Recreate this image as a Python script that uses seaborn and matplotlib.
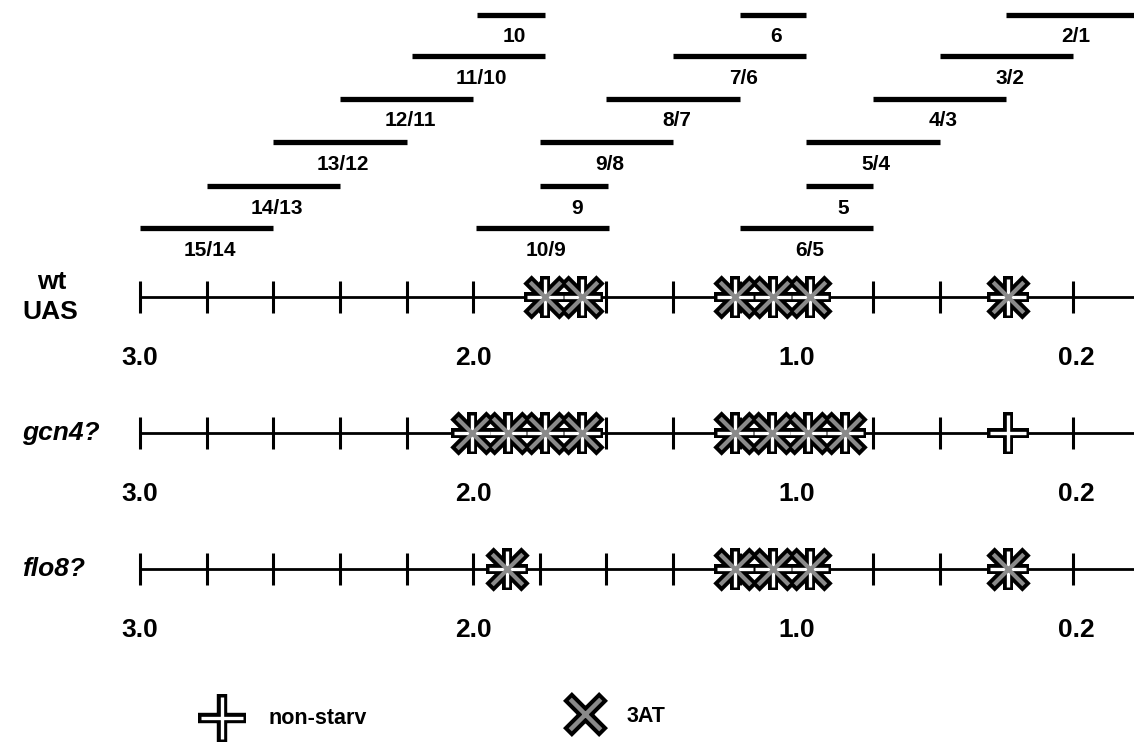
import numpy as np
import pandas as pd
import matplotlib
matplotlib.use('Agg')
import matplotlib.pyplot as plt
import seaborn as sns

sns.set_theme(style='white')
plt.rcParams['font.family'] = ['Liberation Sans', 'DejaVu Sans']
plt.rcParams['font.weight'] = 'bold'

# restriction fragments: label, start, end (map units, one unit per tick), stacking row
frag_names = ['15/14', '14/13', '13/12', '12/11', '11/10', '10',
              '10/9', '9', '9/8', '8/7', '7/6', '6',
              '6/5', '5', '5/4', '4/3', '3/2', '2/1']
frag_start = [0.0, 1.0, 2.0, 3.0, 4.08, 5.05,
              5.04, 6.0, 6.0, 7.0, 8.0, 9.0,
              9.0, 10.0, 10.0, 11.0, 12.0, 13.0]
frag_end = [2.0, 3.0, 4.0, 5.0, 6.08, 6.08,
            7.04, 7.02, 8.0, 9.0, 10.0, 10.0,
            11.0, 11.0, 12.0, 13.0, 14.0, 15.0]
frag_row = [0, 1, 2, 3, 4, 5] * 3

tick_pos = np.arange(15)
scale_labels = ['3.0', '2.0', '1.0', '0.2']
scale_pos = [0.0, 5.0, 9.85, 14.05]

strains = ['wt', 'gcn4?', 'flo8?']
nonstarv = {
    'wt': [6.08, 6.63, 8.93, 9.5, 10.05, 13.03],
    'gcn4?': [4.98, 5.52, 6.08, 6.63, 8.93, 9.48, 10.03, 10.58, 13.03],
    'flo8?': [5.5, 8.93, 9.5, 10.05, 13.03],
}
at3 = {
    'wt': [6.08, 6.63, 8.93, 9.5, 10.05, 13.03],
    'gcn4?': [4.98, 5.52, 6.08, 6.63, 8.93, 9.48, 10.03, 10.58],
    'flo8?': [5.5, 8.93, 9.5, 10.05, 13.03],
}

# layout (pixel rows, axes is set up in pixels vertically)
U = 66.64
X0 = 140
row_y = [228, 186, 142, 99, 56, 15]
strain_y = {'wt': 297, 'gcn4?': 433, 'flo8?': 569}


def mx(px):
    return (px - X0) / U


rows = []
for s in strains:
    for p in nonstarv[s]:
        rows.append({'strain': s, 'pos': p, 'y': strain_y[s], 'cond': 'non-starv'})
    for p in at3[s]:
        rows.append({'strain': s, 'pos': p, 'y': strain_y[s], 'cond': '3AT'})
marks = pd.DataFrame(rows)

fig = plt.figure(figsize=(11.34, 7.45), dpi=100)
ax = fig.add_axes([0, 0, 1, 1])
ax.set_xlim(mx(0), mx(1134))
ax.set_ylim(745, 0)
ax.axis('off')

# fragments
fy = [row_y[r] for r in frag_row]
ax.hlines(fy, frag_start, frag_end, color='black', lw=3.8, zorder=2)
for name, a, b, y in zip(frag_names, frag_start, frag_end, fy):
    ax.text((a + b) / 2 + 0.05, y + 22, name, ha='center', va='center',
            fontsize=15, fontweight='bold', color='black')

# map lines
for s in strains:
    y = strain_y[s]
    ax.hlines(y, 0, mx(1134), color='black', lw=2.0, zorder=1)
    ax.vlines(tick_pos, y - 16, y + 16, color='black', lw=2.2, zorder=1)
    for lab, p in zip(scale_labels, scale_pos):
        ax.text(p, y + 61, lab, ha='center', va='center', fontsize=19,
                fontweight='bold', color='black')

ax.text(mx(52), 282, 'wt', ha='center', va='center', fontsize=19, fontweight='bold', color='black')
ax.text(mx(50), 312, 'UAS', ha='center', va='center', fontsize=19, fontweight='bold', color='black')
ax.text(mx(22), strain_y['gcn4?'], 'gcn4?', ha='left', va='center', fontsize=19,
        fontweight='bold', style='italic', color='black')
ax.text(mx(22), strain_y['flo8?'], 'flo8?', ha='left', va='center', fontsize=19,
        fontweight='bold', style='italic', color='black')

# markers: black outlines first, then the light interiors
ns = marks[marks['cond'] == 'non-starv']
xx = marks[marks['cond'] == '3AT']
sns.scatterplot(data=ns, x='pos', y='y', marker='+', s=30 ** 2, color='black',
                linewidth=7.2, ax=ax, legend=False, zorder=3)
sns.scatterplot(data=xx, x='pos', y='y', marker='x', s=26 ** 2, color='black',
                linewidth=8.5, ax=ax, legend=False, zorder=3)
sns.scatterplot(data=ns, x='pos', y='y', marker='+', s=26 ** 2, color='white',
                linewidth=2.4, ax=ax, legend=False, zorder=4)
sns.scatterplot(data=xx, x='pos', y='y', marker='x', s=22 ** 2, color='#8a8a8a',
                linewidth=3.0, ax=ax, legend=False, zorder=4)

# legend
ax.scatter([mx(222)], [718], marker='+', s=34 ** 2, color='black', linewidths=7.5, zorder=3)
ax.scatter([mx(222)], [718], marker='+', s=30 ** 2, color='white', linewidths=2.4, zorder=4)
ax.text(mx(268), 719, 'non-starv', ha='left', va='center', fontsize=15.5, fontweight='bold',
        color='black')
ax.scatter([mx(585)], [714], marker='x', s=26 ** 2, color='black', linewidths=9, zorder=3)
ax.scatter([mx(585)], [714], marker='x', s=22 ** 2, color='#8a8a8a', linewidths=3.2, zorder=4)
ax.text(mx(627), 716, '3AT', ha='left', va='center', fontsize=15.5, fontweight='bold',
        color='black')

fig.savefig('out.png', dpi=100)
